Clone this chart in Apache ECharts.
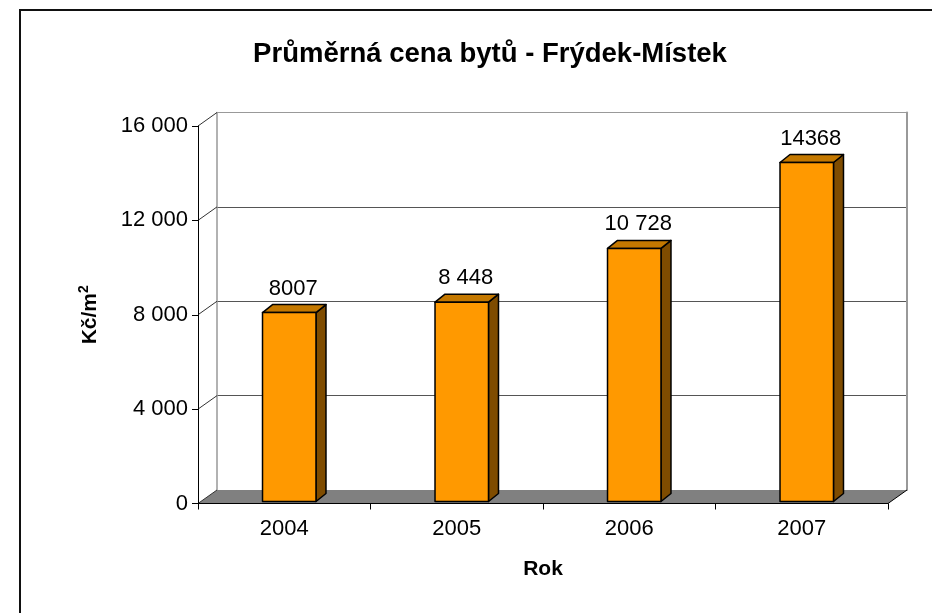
<!DOCTYPE html>
<html>
<head>
<meta charset="utf-8">
<script src="https://cdn.jsdelivr.net/npm/echarts@6/dist/echarts.min.js"></script>
<style>html,body{margin:0;padding:0;background:#fff}#c{width:932px;height:613px}</style>
</head>
<body>
<div id="c"></div>
<script>
const categories = ['2004', '2005', '2006', '2007'];
const prices = [8007, 8448, 10728, 14368];
const priceLabels = ['8007', '8 448', '10 728', '14368'];
const yTicks = [0, 4000, 8000, 12000, 16000];
const yTickLabels = ['0', '4 000', '8 000', '12 000', '16 000'];
const titleText = 'Průměrná cena bytů - Frýdek-Místek';
const yNameBase = 'Kč/m';
const yNameSup = '2';
const xName = 'Rok';

const FONT = "'Liberation Sans', Arial, sans-serif";
const DX = 19, DY = -13.5;          // depth of walls/floor
const BDX = 10, BDY = -8;           // depth of bars
const BSHIFT_X = 5, BSHIFT_Y = -2;  // bar front face offset
const yMax = yTicks[yTicks.length - 1];
const yInt = yTicks[1] - yTicks[0];

const chart = echarts.init(document.getElementById('c'), null, {renderer: 'canvas'});

function floorItem(params, api) {
  const cs = params.coordSys;
  const base = api.coord([0, 0])[1];
  const x0 = cs.x, x1 = cs.x + cs.width;
  const children = [{
    type: 'polygon',
    shape: {points: [[x0, base], [x1, base], [x1 + DX, base + DY], [x0 + DX, base + DY]]},
    style: {fill: '#808080', stroke: null}
  }, {
    type: 'line',
    shape: {x1: x1, y1: base, x2: x1 + DX, y2: base + DY},
    style: {stroke: '#000', lineWidth: 1}
  }];
  yTicks.forEach(function (t) {
    const y = api.coord([0, t])[1];
    children.push({
      type: 'line',
      shape: {x1: x0, y1: y, x2: x0 + DX, y2: y + DY},
      style: {stroke: '#333', lineWidth: 1}
    });
  });
  return {type: 'group', children: children};
}

function barItem(params, api) {
  const idx = api.value(0);
  const val = api.value(1);
  const top = api.coord([idx, val]);
  const base = api.coord([idx, 0]);
  const band = api.size([1, 0])[0];
  const w = band * 0.31;
  const cx = top[0] + BSHIFT_X;
  const xa = cx - w / 2, xb = cx + w / 2;
  const yt = top[1] + BSHIFT_Y, yb = base[1] + BSHIFT_Y;
  const stroke = {stroke: '#000', lineWidth: 1.5, lineJoin: 'round'};
  return {
    type: 'group',
    children: [{
      type: 'polygon',
      shape: {points: [[xb, yt], [xb + BDX, yt + BDY], [xb + BDX, yb + BDY], [xb, yb]]},
      style: Object.assign({fill: '#7F4C00'}, stroke)
    }, {
      type: 'polygon',
      shape: {points: [[xa, yt], [xb, yt], [xb + BDX, yt + BDY], [xa + BDX, yt + BDY]]},
      style: Object.assign({fill: '#C47800'}, stroke)
    }, {
      type: 'rect',
      shape: {x: xa, y: yt, width: w, height: yb - yt},
      style: Object.assign({fill: '#FF9900'}, stroke)
    }, {
      type: 'text',
      style: {
        x: cx + 4, y: yt - 24, text: priceLabels[params.dataIndex],
        font: "22px " + FONT, fill: '#000', align: 'center', verticalAlign: 'middle'
      }
    }]
  };
}

const option = {
  backgroundColor: '#fff',
  animation: false,
  textStyle: {fontFamily: FONT},
  title: {
    text: titleText,
    left: 485, top: 35, textAlign: 'center',
    textStyle: {fontFamily: FONT, fontSize: 27.5, fontWeight: 'bold', color: '#000'}
  },
  graphic: [{
    type: 'rect', silent: true, z: -10,
    shape: {x: 20, y: 10, width: 1000, height: 1000},
    style: {fill: null, stroke: '#111', lineWidth: 2}
  }],
  grid: [
    {left: 198, right: 44, top: 126, bottom: 109.5},
    {left: 198 + DX, right: 44 - DX, top: 126 + DY, bottom: 109.5 - DY}
  ],
  xAxis: [{
    gridIndex: 0, type: 'category', data: categories, boundaryGap: true, z: 5,
    axisLine: {show: true, lineStyle: {color: '#000', width: 1}},
    axisTick: {show: true, length: 6, lineStyle: {color: '#000'}},
    axisLabel: {fontSize: 22, color: '#000', margin: 14, fontFamily: FONT},
    name: xName, nameLocation: 'middle', nameGap: 55,
    nameTextStyle: {fontSize: 21, fontWeight: 'bold', color: '#000', fontFamily: FONT},
    splitLine: {show: false}
  }, {
    gridIndex: 1, type: 'category', data: categories, show: false
  }],
  yAxis: [{
    gridIndex: 0, type: 'value', min: 0, max: yMax, interval: yInt, z: 5,
    axisLine: {show: true, lineStyle: {color: '#000', width: 1}},
    axisTick: {show: true, length: 6, lineStyle: {color: '#000'}},
    axisLabel: {
      fontSize: 22, color: '#000', margin: 10, fontFamily: FONT,
      formatter: function (v) { return yTickLabels[yTicks.indexOf(v)]; }
    },
    splitLine: {show: false},
    name: '{b|' + yNameBase + '}{s|' + yNameSup + '}',
    nameLocation: 'middle', nameRotate: 90, nameGap: 97,
    nameTextStyle: {
      fontSize: 21, fontWeight: 'bold', color: '#000', fontFamily: FONT,
      rich: {
        b: {fontSize: 21, fontWeight: 'bold', fontFamily: FONT, color: '#000', lineHeight: 24, verticalAlign: 'bottom'},
        s: {fontSize: 14, fontWeight: 'bold', fontFamily: FONT, color: '#000', lineHeight: 24, verticalAlign: 'top', padding: [0, 0, 8, 0]}
      }
    }
  }, {
    gridIndex: 1, type: 'value', min: 0, max: yMax, interval: yInt, z: 0,
    axisLine: {show: true, lineStyle: {color: '#999', width: 1.5}},
    axisTick: {show: false}, axisLabel: {show: false},
    splitLine: {show: true, lineStyle: {color: ['#555', '#555', '#555', '#555', '#999'], width: 1.2}}
  }, {
    gridIndex: 1, type: 'value', position: 'right', min: 0, max: yMax, interval: yInt, z: 0,
    axisLine: {show: true, lineStyle: {color: '#999', width: 2}},
    axisTick: {show: false}, axisLabel: {show: false}, splitLine: {show: false}
  }],
  series: [{
    type: 'custom', xAxisIndex: 0, yAxisIndex: 0, z: 1, silent: true,
    renderItem: floorItem, data: [[0, 0]], clip: false
  }, {
    type: 'custom', xAxisIndex: 0, yAxisIndex: 0, z: 3, silent: true,
    renderItem: barItem,
    data: prices.map(function (v, i) { return [i, v]; }),
    clip: false
  }]
};
chart.setOption(option);
</script>
</body>
</html>
